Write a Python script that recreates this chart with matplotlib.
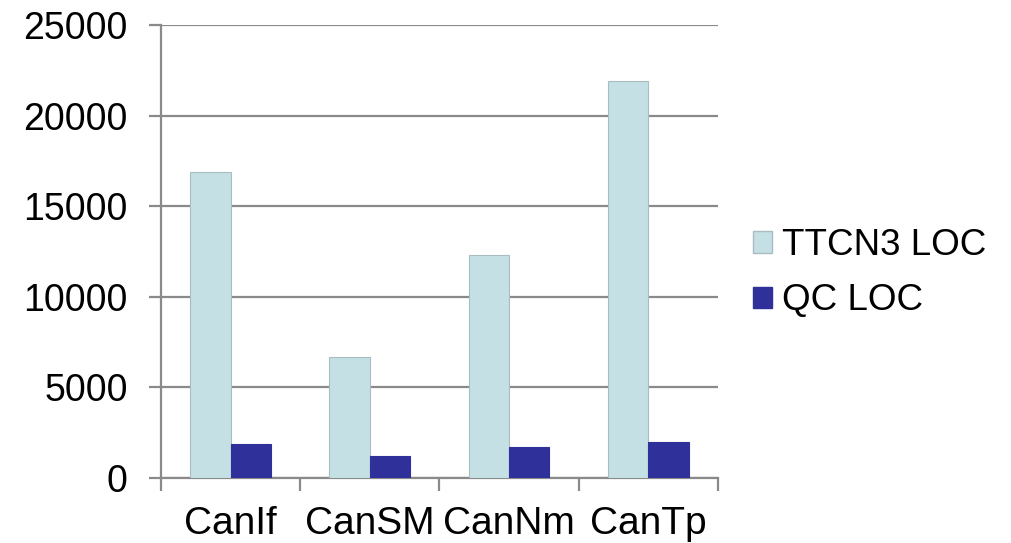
import numpy as np
import matplotlib
matplotlib.use("Agg")
import matplotlib.pyplot as plt
from matplotlib.patches import Patch

categories = ['CanIf', 'CanSM', 'CanNm', 'CanTp']
ttcn3_loc = [16900, 6700, 12300, 21900]
qc_loc = [1900, 1200, 1700, 2000]
series_names = ['TTCN3 LOC', 'QC LOC']

plt.rcParams['font.family'] = ['Liberation Sans', 'DejaVu Sans']

light = '#c4e0e4'
dark = '#30309a'
grid_c = '#8a8a8a'

fig = plt.figure(figsize=(10.12, 5.43), dpi=100)
ax = fig.add_axes([0.159, 0.1197, 0.5505, 0.834])

x = np.arange(len(categories))
w = 0.29
ax.bar(x - w / 2, ttcn3_loc, w, color=light, edgecolor='#a9bcc0', linewidth=0.8, zorder=3)
ax.bar(x + w / 2, qc_loc, w, color=dark, edgecolor=dark, linewidth=0.8, zorder=3)

ax.set_xlim(-0.5, len(categories) - 0.5)
ax.set_ylim(0, 25000)
ax.set_yticks(range(0, 25001, 5000))
ax.set_xticks(x)
ax.set_xticklabels(categories)
ax.set_xticks(np.arange(-0.5, len(categories)), minor=True)

ax.yaxis.grid(True, color=grid_c, linewidth=1.6, zorder=0)
for s in ['top', 'right']:
    ax.spines[s].set_visible(False)
for s in ['left', 'bottom']:
    ax.spines[s].set_color(grid_c)
    ax.spines[s].set_linewidth(1.6)

ax.tick_params(axis='y', length=9, width=1.6, color=grid_c, labelsize=27, pad=15)
ax.tick_params(axis='x', which='major', length=0, labelsize=28, pad=20)
ax.tick_params(axis='x', which='minor', length=9, width=1.6, color=grid_c)

handles = [Patch(facecolor=light, edgecolor='#a9bcc0'), Patch(facecolor=dark, edgecolor=dark)]
fig.legend(handles, series_names, loc='center left', bbox_to_anchor=(0.711, 0.497),
           frameon=False, fontsize=26.5, handlelength=0.52, handleheight=0.52,
           handletextpad=0.27, labelspacing=0.56)

fig.savefig('out.png', dpi=100)
